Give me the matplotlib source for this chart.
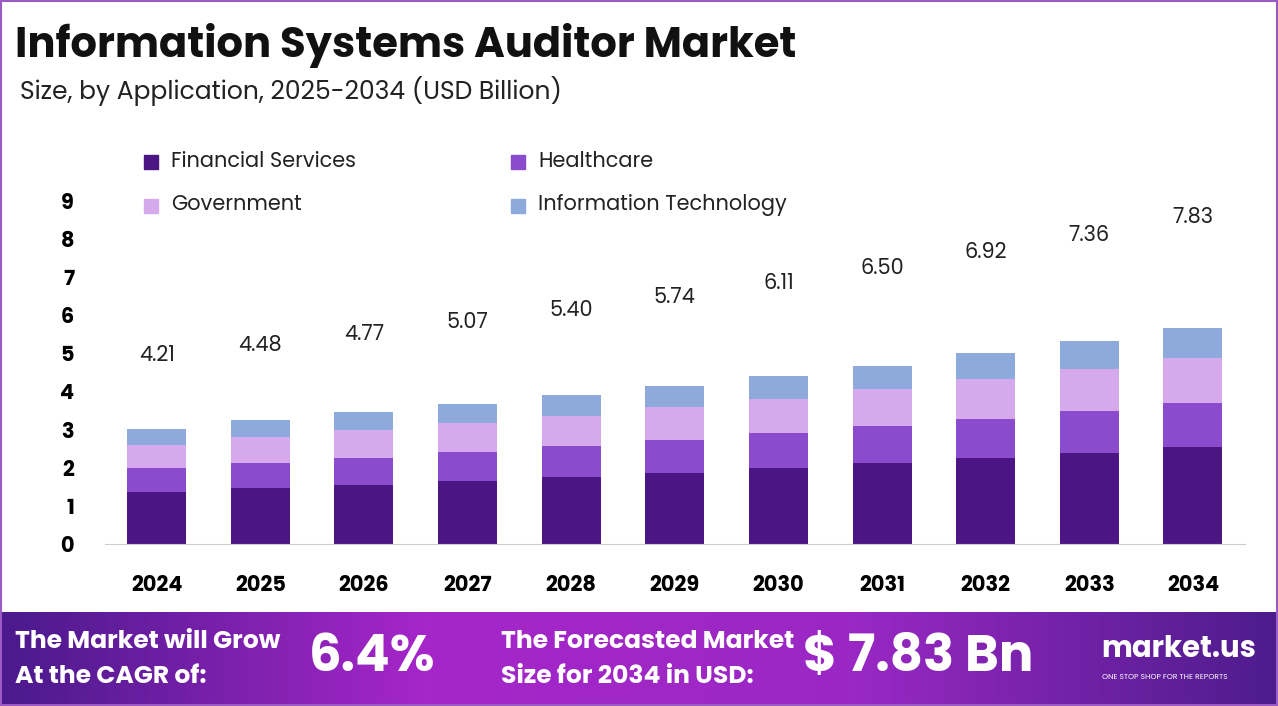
import matplotlib.pyplot as plt
import numpy as np
from matplotlib.colors import LinearSegmentedColormap
from matplotlib.patches import Rectangle

years = ["2024", "2025", "2026", "2027", "2028", "2029", "2030", "2031", "2032", "2033", "2034"]
financial = [1.36, 1.47, 1.55, 1.65, 1.76, 1.86, 1.99, 2.13, 2.26, 2.39, 2.55]
healthcare = [0.64, 0.66, 0.71, 0.76, 0.81, 0.87, 0.92, 0.97, 1.02, 1.10, 1.15]
government = [0.60, 0.68, 0.73, 0.77, 0.79, 0.87, 0.90, 0.97, 1.05, 1.10, 1.18]
info_tech = [0.42, 0.44, 0.47, 0.49, 0.55, 0.55, 0.60, 0.60, 0.68, 0.74, 0.79]
totals = [4.21, 4.48, 4.77, 5.07, 5.40, 5.74, 6.11, 6.50, 6.92, 7.36, 7.83]

series = [
    ("Financial Services", financial, "#4b1684"),
    ("Healthcare", healthcare, "#8a4ccc"),
    ("Government", government, "#d5a9ec"),
    ("Information Technology", info_tech, "#8eaadc"),
]

plt.rcParams["font.family"] = ["Poppins", "Lato", "DejaVu Sans"]
fig = plt.figure(figsize=(12.78, 7.06), dpi=100)

# border
fig.patches.append(Rectangle((0.001, 0.001), 0.998, 0.997, transform=fig.transFigure,
                             fill=False, edgecolor="#9b59c6", linewidth=1.5))

ax = fig.add_axes([0.082, 0.2295, 0.892, 0.486])
x = np.arange(len(years))
bottom = np.zeros(len(years))
for name, vals, color in series:
    ax.bar(x, vals, width=0.57, bottom=bottom, color=color, label=name)
    bottom += np.array(vals)

for xi, t in zip(x, totals):
    ax.text(xi, t + 0.72, f"{t:.2f}", ha="center", va="center", fontsize=15, color="#222222")

ax.set_ylim(0, 9)
ax.set_xlim(-0.5, len(years) - 0.5)
ax.set_xticks(x)
ax.set_xticklabels(years, fontsize=15, fontweight="bold")
ax.set_yticks(range(10))
ax.set_yticklabels([str(i) for i in range(10)], fontsize=15, fontweight="bold")
ax.tick_params(length=0, pad=22)
ax.tick_params(axis="x", pad=22)
for s in ["top", "right", "left"]:
    ax.spines[s].set_visible(False)
ax.spines["bottom"].set_color("#cccccc")

# legend
leg = [(0.113, 0.771, 0), (0.4, 0.771, 1), (0.113, 0.709, 2), (0.4, 0.709, 3)]
for lx, ly, i in leg:
    fig.patches.append(Rectangle((lx, ly - 0.011), 0.011, 0.02, transform=fig.transFigure,
                                 color=series[i][2]))
    fig.text(lx + 0.021, ly, series[i][0], fontsize=15, va="center", color="#222222")

fig.text(0.012, 0.935, "Information Systems Auditor Market", fontsize=30, fontweight="bold",
         va="center", color="#111111")
fig.text(0.016, 0.871, "Size, by Application, 2025-2034 (USD Billion)", fontsize=18,
         va="center", color="#222222")

# footer
fax = fig.add_axes([0, 0, 1, 0.133])
cmap = LinearSegmentedColormap.from_list("f", ["#4a1a8c", "#a626c9", "#9a28c4", "#4d1c8c"])
fax.imshow(np.linspace(0, 1, 256)[None, :], aspect="auto", cmap=cmap, extent=[0, 1, 0, 1])
fax.set_xlim(0, 1)
fax.set_ylim(0, 1)
fax.axis("off")
fax.text(0.012, 0.68, "The Market will Grow", fontsize=18, fontweight="bold", color="white", va="center")
fax.text(0.012, 0.3, "At the CAGR of:", fontsize=18, fontweight="bold", color="white", va="center")
fax.text(0.242, 0.5, "6.4%", fontsize=37, fontweight="bold", color="white", va="center")
fax.text(0.392, 0.68, "The Forecasted Market", fontsize=18, fontweight="bold", color="white", va="center")
fax.text(0.392, 0.3, "Size for 2034 in USD:", fontsize=18, fontweight="bold", color="white", va="center")
fax.text(0.628, 0.5, "$ 7.83 Bn", fontsize=37, fontweight="bold", color="white", va="center")
fax.text(0.862, 0.6, "market.us", fontsize=21, fontweight="bold", color="white", va="center")
fax.text(0.862, 0.3, "ONE STOP SHOP FOR THE REPORTS", fontsize=5.5, color="white", va="center")

fig.savefig("out.png", dpi=100)
